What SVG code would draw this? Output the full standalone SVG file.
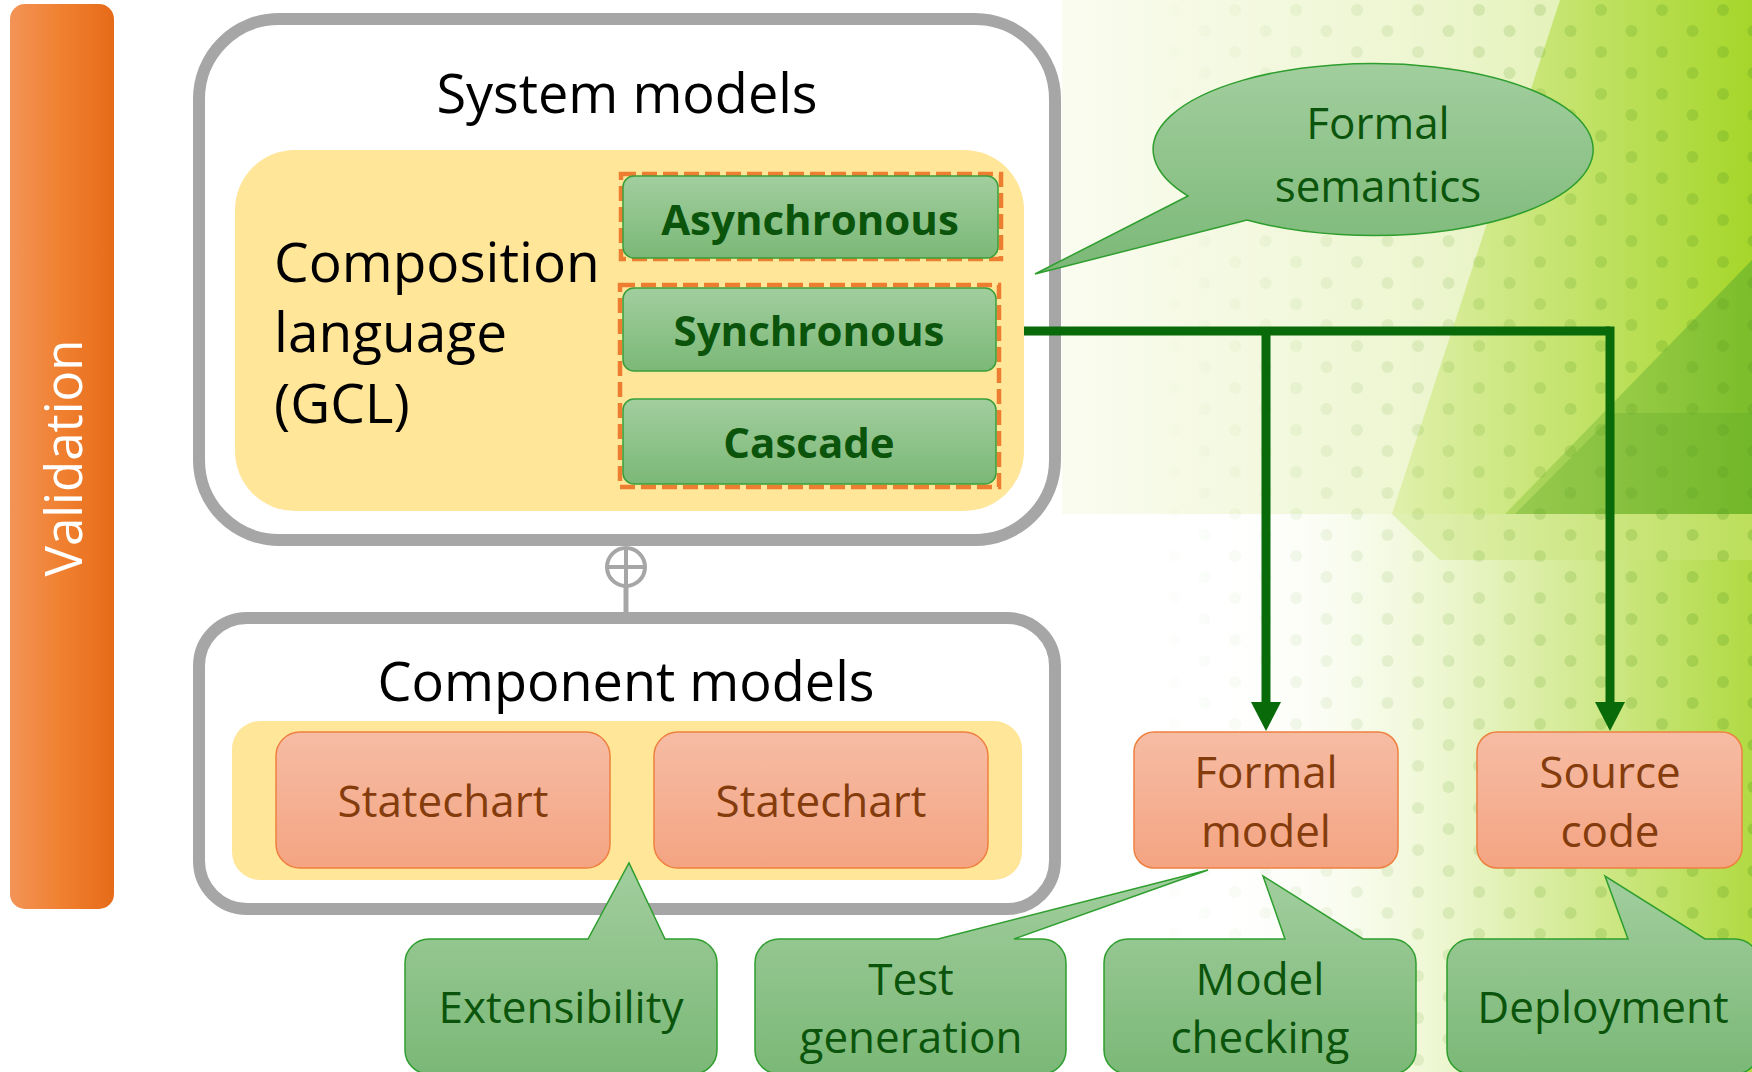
<svg xmlns="http://www.w3.org/2000/svg" width="1752" height="1072" viewBox="0 0 1752 1072">
  <defs>
    <linearGradient id="gOrangeBar" x1="0" y1="0" x2="1" y2="0">
      <stop offset="0" stop-color="#F29457"/>
      <stop offset="0.5" stop-color="#F08030"/>
      <stop offset="1" stop-color="#E66B18"/>
    </linearGradient>
    <linearGradient id="gGreen" x1="0" y1="0" x2="0" y2="1">
      <stop offset="0" stop-color="#A2CE9E"/>
      <stop offset="1" stop-color="#7BB877"/>
    </linearGradient>
    <linearGradient id="gSalmon" x1="0" y1="0" x2="0" y2="1">
      <stop offset="0" stop-color="#F6BCA4"/>
      <stop offset="1" stop-color="#F4A482"/>
    </linearGradient>
    <linearGradient id="gPaleBand" x1="1062" y1="0" x2="1752" y2="0" gradientUnits="userSpaceOnUse">
      <stop offset="0" stop-color="#FAFCF0"/>
      <stop offset="0.5" stop-color="#EEF6D2"/>
      <stop offset="1" stop-color="#D9ED9C"/>
    </linearGradient>
    <linearGradient id="gBright" x1="1392" y1="0" x2="1752" y2="0" gradientUnits="userSpaceOnUse">
      <stop offset="0" stop-color="#E0F0AC"/>
      <stop offset="1" stop-color="#A6D62A"/>
    </linearGradient>
    <linearGradient id="gDark" x1="1500" y1="0" x2="1752" y2="0" gradientUnits="userSpaceOnUse">
      <stop offset="0" stop-color="#A9D457"/>
      <stop offset="1" stop-color="#6DB52A"/>
    </linearGradient>
    <linearGradient id="gLower" x1="1200" y1="0" x2="1752" y2="0" gradientUnits="userSpaceOnUse">
      <stop offset="0" stop-color="#FFFFFF" stop-opacity="0"/>
      <stop offset="0.45" stop-color="#EAF5C8"/>
      <stop offset="1" stop-color="#A8D62E"/>
    </linearGradient>
    <linearGradient id="gDotFade" x1="1150" y1="0" x2="1752" y2="0" gradientUnits="userSpaceOnUse">
      <stop offset="0" stop-color="#fff" stop-opacity="0"/>
      <stop offset="1" stop-color="#fff" stop-opacity="1"/>
    </linearGradient>
    <pattern id="pDots" x="0" y="0" width="61" height="42" patternUnits="userSpaceOnUse">
      <circle cx="15" cy="10" r="6" fill="#5E9E22" fill-opacity="0.28"/>
      <circle cx="45.5" cy="31" r="6" fill="#5E9E22" fill-opacity="0.28"/>
    </pattern>
    <mask id="mDots">
      <rect x="1150" y="0" width="602" height="1072" fill="url(#gDotFade)"/>
    </mask>
    <marker id="arrowHead" markerUnits="userSpaceOnUse" markerWidth="30" markerHeight="30" viewBox="0 0 30 30" refX="0" refY="15" orient="auto">
      <path d="M0,0 L29,15 L0,30 Z" fill="#086A08"/>
    </marker>
    <style>
      .txt { font-family: "Open Sans", "Noto Sans", "DejaVu Sans", sans-serif; }
      .heading { font-size: 54px; fill: #000000; text-anchor: middle; }
      .frame { fill: #FFFFFF; fill-opacity: 0.9; stroke: #A6A6A6; stroke-width: 12; }
      .pad { fill: #FFE699; }
      .mode { fill: url(#gGreen); stroke: #3A9E3A; stroke-width: 1.5; }
      .modeTxt { font-size: 42px; font-weight: 700; fill: #0B540B; text-anchor: middle; }
      .dash { fill: none; stroke: #ED7D31; stroke-width: 4.5; stroke-dasharray: 15 6; }
      .artifact { fill: url(#gSalmon); stroke: #EE8040; stroke-width: 1.5; }
      .artTxt { font-size: 44px; fill: #843C0C; text-anchor: middle; }
      .callout { fill: url(#gGreen); stroke: #2E9E2E; stroke-width: 1.5; }
      .callTxt { font-size: 44px; fill: #0B540B; text-anchor: middle; }
      .link { fill: none; stroke: #086A08; stroke-width: 9; }
      .compose { fill: none; stroke: #A6A6A6; }
    </style>
  </defs>

  <!-- backdrop -->
  <g id="backdrop">
    <rect x="0" y="0" width="1752" height="1072" fill="#FFFFFF"/>
    <rect x="1062" y="0" width="690" height="514" fill="url(#gPaleBand)"/>
    <polygon points="1200,514 1752,514 1752,1072 1200,1072" fill="url(#gLower)" opacity="0.9"/>
    <polygon points="1560,0 1752,0 1752,514 1392,514" fill="url(#gBright)"/>
    <polygon points="1752,260 1752,514 1505,514" fill="url(#gDark)" opacity="0.75"/>
    <polygon points="1615,413 1752,413 1752,514 1515,514" fill="#5FA82C" opacity="0.3"/>
    <polygon points="1392,514 1752,514 1752,560 1440,560" fill="#C9E47A" opacity="0.45"/>
    <rect x="1150" y="0" width="602" height="1072" fill="url(#pDots)" mask="url(#mDots)"/>
  </g>

  <!-- side bar -->
  <g id="validation">
    <rect x="10" y="4" width="104" height="905" rx="15" fill="url(#gOrangeBar)"/>
    <text class="txt" transform="translate(82,458) rotate(-90)" font-size="51" fill="#FFFFFF" text-anchor="middle">Validation</text>
  </g>

  <!-- system level -->
  <g id="system-models">
    <rect class="frame" x="199" y="19" width="856" height="521" rx="80"/>
    <text class="txt heading" x="627" y="113">System models</text>
  </g>

  <g id="gcl">
    <rect class="pad" x="235" y="150" width="789" height="361" rx="60"/>
    <text class="txt" font-size="55" fill="#000000">
      <tspan x="274" y="282">Composition</tspan>
      <tspan x="274" y="352">language</tspan>
      <tspan x="274" y="423">(GCL)</tspan>
    </text>
  </g>

  <g id="async-group">
    <rect class="dash" x="621" y="174" width="380" height="85"/>
  </g>
  <g id="sync-group">
    <rect class="dash" x="620" y="285" width="379" height="202"/>
  </g>

  <g id="asynchronous">
    <rect class="mode" x="623" y="176" width="375" height="82" rx="11"/>
    <text class="txt modeTxt" x="810" y="235">Asynchronous</text>
  </g>
  <g id="synchronous">
    <rect class="mode" x="623" y="288" width="373" height="83" rx="11"/>
    <text class="txt modeTxt" x="809" y="346">Synchronous</text>
  </g>
  <g id="cascade">
    <rect class="mode" x="623" y="399" width="373" height="85" rx="11"/>
    <text class="txt modeTxt" x="809" y="458">Cascade</text>
  </g>

  <!-- component level -->
  <g id="component-models">
    <rect class="frame" x="199" y="618" width="856" height="291" rx="48"/>
    <text class="txt heading" x="626" y="701">Component models</text>
    <rect class="pad" x="232" y="721" width="790" height="159" rx="28"/>
  </g>

  <g id="statechart-1">
    <rect class="artifact" x="276" y="732" width="334" height="136" rx="24"/>
    <text class="txt artTxt" x="443" y="817">Statechart</text>
  </g>
  <g id="statechart-2">
    <rect class="artifact" x="654" y="732" width="334" height="136" rx="24"/>
    <text class="txt artTxt" x="821" y="817">Statechart</text>
  </g>

  <!-- generated artifacts -->
  <g id="formal-model">
    <rect class="artifact" x="1134" y="732" width="264" height="136" rx="20"/>
    <text class="txt artTxt" x="1266" y="788">Formal</text>
    <text class="txt artTxt" x="1266" y="847">model</text>
  </g>
  <g id="source-code">
    <rect class="artifact" x="1477" y="732" width="265" height="136" rx="20"/>
    <text class="txt artTxt" x="1610" y="788">Source</text>
    <text class="txt artTxt" x="1610" y="847">code</text>
  </g>

  <!-- callouts -->
  <g id="formal-semantics">
    <path class="callout" d="M1188,196 L1035,274 L1247,220 A220 86 0 1 0 1188 196 Z"/>
    <text class="txt callTxt" x="1378" y="139" font-size="51">Formal</text>
    <text class="txt callTxt" x="1378" y="202" font-size="51">semantics</text>
  </g>
  <g id="extensibility">
    <path class="callout" d="M429,939 H588 L629,863 L665,939 H693 A24 24 0 0 1 717 963 V1050 A24 24 0 0 1 693 1074 H429 A24 24 0 0 1 405 1050 V963 A24 24 0 0 1 429 939 Z"/>
    <text class="txt callTxt" x="561" y="1023">Extensibility</text>
  </g>
  <g id="test-generation">
    <path class="callout" d="M779,939 H938 L1208,870 L1014,939 H1042 A24 24 0 0 1 1066 963 V1050 A24 24 0 0 1 1042 1074 H779 A24 24 0 0 1 755 1050 V963 A24 24 0 0 1 779 939 Z"/>
    <text class="txt callTxt" x="911" y="995">Test</text>
    <text class="txt callTxt" x="911" y="1053">generation</text>
  </g>
  <g id="model-checking">
    <path class="callout" d="M1128,939 H1285 L1263,876 L1363,939 H1392 A24 24 0 0 1 1416 963 V1050 A24 24 0 0 1 1392 1074 H1128 A24 24 0 0 1 1104 1050 V963 A24 24 0 0 1 1128 939 Z"/>
    <text class="txt callTxt" x="1260" y="995">Model</text>
    <text class="txt callTxt" x="1260" y="1053">checking</text>
  </g>
  <g id="deployment">
    <path class="callout" d="M1471,939 H1628 L1605,876 L1705,939 H1735 A24 24 0 0 1 1759 963 V1050 A24 24 0 0 1 1735 1074 H1471 A24 24 0 0 1 1447 1050 V963 A24 24 0 0 1 1471 939 Z"/>
    <text class="txt callTxt" x="1603" y="1023">Deployment</text>
  </g>

  <!-- connectors -->
  <g id="connectors">
    <g id="composition-link" class="compose">
      <circle cx="626" cy="567" r="19" stroke-width="4"/>
      <line x1="626" y1="548" x2="626" y2="586" stroke-width="4"/>
      <line x1="607" y1="567" x2="645" y2="567" stroke-width="4"/>
      <line x1="626" y1="586" x2="626" y2="613" stroke-width="5"/>
    </g>
    <path class="link" d="M1024,331 H1610"/>
    <path class="link" d="M1266,331 V702" marker-end="url(#arrowHead)"/>
    <path class="link" d="M1610,326.5 V702" marker-end="url(#arrowHead)"/>
  </g>
</svg>
